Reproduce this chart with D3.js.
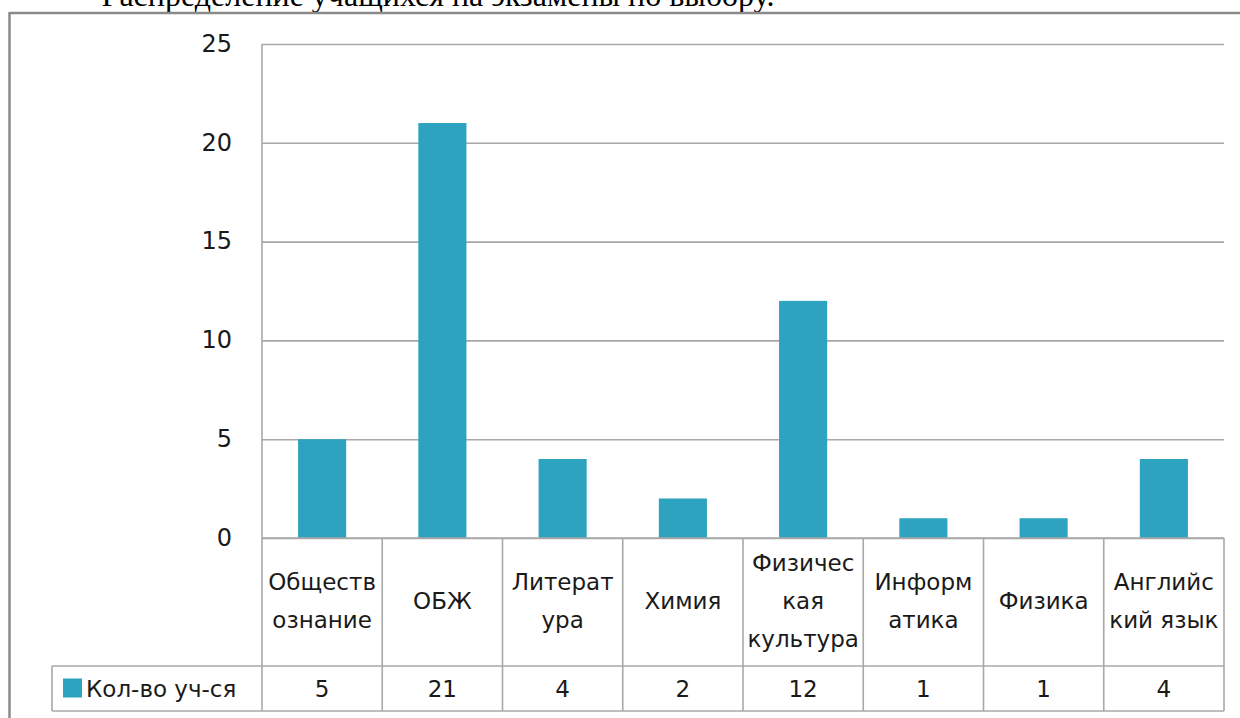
<!DOCTYPE html>
<html><head><meta charset="utf-8">
<script src="https://cdn.jsdelivr.net/npm/d3@7"></script>
<style>
html,body{margin:0;padding:0;background:#fff;}
svg{display:block;}
</style></head>
<body>
<svg id="chart" width="1240" height="718"></svg>
<script>
const title = "Распределение учащихся на экзамены по выбору.";
const categories = ["Обществознание","ОБЖ","Литература","Химия","Физическая культура","Информатика","Физика","Английский язык"];
const categoryLines = [["Обществ","ознание"],["ОБЖ"],["Литерат","ура"],["Химия"],["Физичес","кая","культура"],["Информ","атика"],["Физика"],["Английс","кий язык"]];
const seriesName = "Кол-во уч-ся";
const values = [5,21,4,2,12,1,1,4];
const yTicks = [0,5,10,15,20,25];

(function(){
const svg = d3.select("#chart");
const pL = 262, pR = 1224, pT = 44, pB = 538;
const catRowBottom = 666, valRowBottom = 711, legendLeft = 52;
const barColor = "#2ea3bf";
const gridColor = "#a8a8a8";
const textColor = "#1a1a1a";
const font = "DejaVu Sans, Verdana, sans-serif";

// title (cut off at top, as in the source)
svg.append("text").attr("x", 438).attr("y", 6).attr("text-anchor","middle")
  .attr("font-family","Liberation Serif, Times New Roman, serif").attr("font-size",32)
  .attr("fill","#000").text(title);

// outer frame
svg.append("line").attr("x1",9).attr("x2",1240).attr("y1",13).attr("y2",13)
  .attr("stroke","#8a8a8a").attr("stroke-width",2.5);
svg.append("line").attr("x1",9.5).attr("x2",9.5).attr("y1",12).attr("y2",718)
  .attr("stroke","#8a8a8a").attr("stroke-width",2.5);

const x = d3.scaleBand().domain(categories).range([pL,pR]).paddingInner(0.6).paddingOuter(0.3);
const y = d3.scaleLinear().domain([0,25]).range([pB,pT]);

// gridlines
const yAxis = d3.axisLeft(y).tickValues(yTicks).tickSize(-(pR-pL)).tickPadding(30);
const ga = svg.append("g").attr("transform",`translate(${pL},0)`).call(yAxis);
ga.select(".domain").remove();
ga.selectAll(".tick line").attr("stroke",gridColor).attr("stroke-width",1.6);
ga.selectAll(".tick text").attr("font-family",font).attr("font-size",24).attr("fill",textColor)
  .attr("dy","0.3em");

// bars
svg.append("g").selectAll("rect").data(values).join("rect")
  .attr("x",(d,i)=>x(categories[i]))
  .attr("y",d=>y(d))
  .attr("width",x.bandwidth())
  .attr("height",d=>y(0)-y(d))
  .attr("fill",barColor);

// vertical axis line
svg.append("line").attr("x1",pL).attr("x2",pL).attr("y1",pT).attr("y2",valRowBottom)
  .attr("stroke",gridColor).attr("stroke-width",1.6);

// data table
const step = x.step();
const tbl = svg.append("g");
tbl.append("line").attr("x1",pL).attr("x2",pR).attr("y1",pB).attr("y2",pB)
  .attr("stroke",gridColor).attr("stroke-width",1.6);
[catRowBottom,valRowBottom].forEach(yy=>{
  tbl.append("line").attr("x1",legendLeft).attr("x2",pR).attr("y1",yy).attr("y2",yy)
    .attr("stroke",gridColor).attr("stroke-width",1.6);
});
tbl.append("line").attr("x1",legendLeft).attr("x2",legendLeft).attr("y1",catRowBottom).attr("y2",valRowBottom)
  .attr("stroke",gridColor).attr("stroke-width",1.6);
tbl.selectAll("line.sep").data(categories).join("line").attr("class","sep")
  .attr("x1",(d,i)=>pL+step*(i+1)).attr("x2",(d,i)=>pL+step*(i+1))
  .attr("y1",pB).attr("y2",valRowBottom)
  .attr("stroke",gridColor).attr("stroke-width",1.6);

// category labels
const lineH = 38;
const catMid = (pB+catRowBottom)/2 - 1;
categoryLines.forEach((lines,i)=>{
  const cx = x(categories[i]) + x.bandwidth()/2;
  const t = tbl.append("text").attr("text-anchor","middle").attr("font-family",font)
    .attr("font-size",23).attr("fill",textColor);
  lines.forEach((ln,j)=>{
    t.append("tspan").attr("x",cx)
      .attr("y", catMid + (j-(lines.length-1)/2)*lineH)
      .attr("dy","0.36em").text(ln);
  });
});

// values row
const valMid = (catRowBottom+valRowBottom)/2;
tbl.selectAll("text.val").data(values).join("text").attr("class","val")
  .attr("x",(d,i)=>x(categories[i])+x.bandwidth()/2)
  .attr("y",valMid).attr("dy","0.36em").attr("text-anchor","middle")
  .attr("font-family",font).attr("font-size",23).attr("fill",textColor)
  .text(d=>d);

// legend key in table
tbl.append("rect").attr("x",63).attr("y",valMid-10).attr("width",19).attr("height",19).attr("fill",barColor);
tbl.append("text").attr("x",86).attr("y",valMid).attr("dy","0.36em")
  .attr("font-family",font).attr("font-size",23).attr("fill",textColor).text(seriesName);
})();
</script>
</body></html>
